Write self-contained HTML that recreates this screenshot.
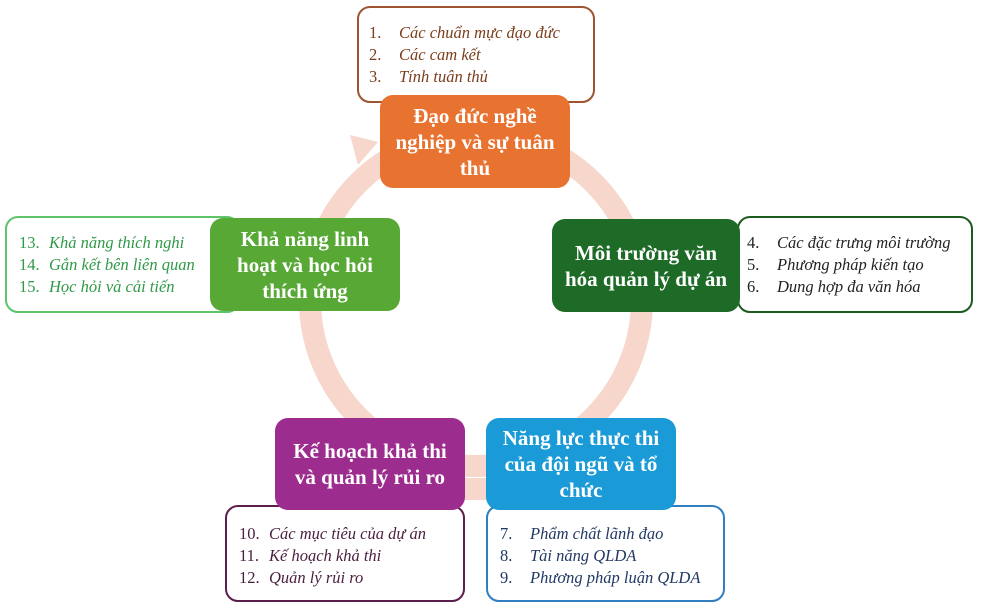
<!DOCTYPE html>
<html><head><meta charset="utf-8"><style>
body{margin:0;width:981px;height:608px;background:#fff;position:relative;overflow:hidden;font-family:"Liberation Serif",serif}
.b{position:absolute;box-sizing:border-box;border-radius:13px}
.m{color:#fff;font-weight:bold;font-size:21px;line-height:26px;text-align:center;display:flex;align-items:center;justify-content:center;white-space:nowrap}
.l{background:#fff;border:2px solid;font-style:italic;font-size:16.5px;line-height:22px;padding-top:14px}
.l div{white-space:nowrap}
.l span{display:inline-block;width:30px;font-style:normal}
</style></head><body>
<svg width="981" height="608" style="position:absolute;left:0;top:0">
<circle cx="476" cy="300" r="166" fill="none" stroke="#f7d6cc" stroke-width="22"/>
<polygon points="345,140 372,140 345,170" fill="#fff"/>
<polygon points="350,135 378,142 358,165" fill="#f7d6cc"/>
<rect x="460" y="478" width="30" height="22" fill="#f7d6cc"/>
</svg>
<div class="b l" style="left:357px;top:6px;width:238px;height:97px;border-color:#9c5530;color:#7a3d1c;padding-left:10px"><div><span>1.</span>Các chuẩn mực đạo đức</div><div><span>2.</span>Các cam kết</div><div><span>3.</span>Tính tuân thủ</div></div>
<div class="b m" style="left:380px;top:95px;width:190px;height:93px;background:#e8722f">Đạo đức nghề<br>nghiệp và sự tuân<br>thủ</div>
<div class="b l" style="left:737px;top:216px;width:236px;height:97px;border-color:#1d5a22;color:#222;padding-left:8px"><div><span>4.</span>Các đặc trưng môi trường</div><div><span>5.</span>Phương pháp kiến tạo</div><div><span>6.</span>Dung hợp đa văn hóa</div></div>
<div class="b m" style="left:552px;top:219px;width:188px;height:93px;background:#1e6a27">Môi trường văn<br>hóa quản lý dự án</div>
<div class="b l" style="left:5px;top:216px;width:235px;height:97px;border-color:#5ec46a;color:#2e9a48;padding-left:12px"><div><span>13.</span>Khả năng thích nghi</div><div><span>14.</span>Gắn kết bên liên quan</div><div><span>15.</span>Học hỏi và cải tiến</div></div>
<div class="b m" style="left:210px;top:218px;width:190px;height:93px;background:#58a836">Khả năng linh<br>hoạt và học hỏi<br>thích ứng</div>
<div class="b l" style="left:225px;top:505px;width:240px;height:97px;border-color:#5a1f4c;color:#4a1e3e;padding-left:12px;padding-top:16px"><div><span>10.</span>Các mục tiêu của dự án</div><div><span>11.</span>Kế hoạch khả thi</div><div><span>12.</span>Quản lý rủi ro</div></div>
<div class="b m" style="left:275px;top:418px;width:190px;height:92px;background:#9c2d8e">Kế hoạch khả thi<br>và quản lý rủi ro</div>
<div class="b l" style="left:486px;top:505px;width:239px;height:97px;border-color:#2f7fc0;color:#1f3864;padding-left:12px;padding-top:16px"><div><span>7.</span>Phẩm chất lãnh đạo</div><div><span>8.</span>Tài năng QLDA</div><div><span>9.</span>Phương pháp luận QLDA</div></div>
<div class="b m" style="left:486px;top:418px;width:190px;height:92px;background:#1a9ad6">Năng lực thực thi<br>của đội ngũ và tổ<br>chức</div>
</body></html>
